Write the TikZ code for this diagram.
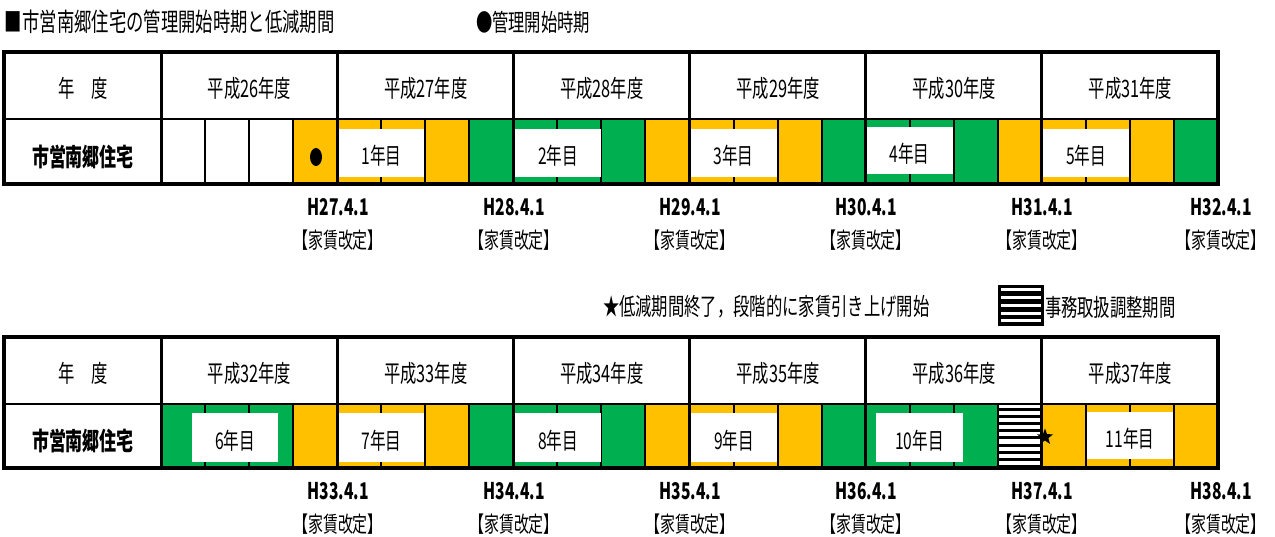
\documentclass[tikz,border=0pt]{standalone}
\usepackage{fontspec}
\setmainfont{Noto Sans CJK JP}[FakeStretch=0.68]
\usetikzlibrary{shapes.geometric}
\definecolor{cgreen}{HTML}{00B050}
\definecolor{corange}{HTML}{FFC000}
\newcommand\mytable[4]{% #1 top, #2 mid, #3 bottom, #4 colours
  \foreach \c [count=\i from 0] in {#4} {
    \fill[\c] ({161+\i*44.0417},#2) rectangle ({161+(\i+1)*44.0417},#3);
  }
}
\newcommand\mylines[3]{% #1 top, #2 mid, #3 bottom
  \foreach \i in {1,...,24} {
    \pgfmathtruncatemacro\r{mod(\i,4)}
    \ifnum\r=0\relax
      \draw[yearline] ({161+\i*44.0417},#1) -- ({161+\i*44.0417},#3);
    \fi
  }
  \draw[yearline] (161,#1) -- (161,#3);
  \draw[midline] (4,#2) -- (1218,#2);
  \draw[frame] (4,#1) rectangle (1218,#3);
}
\newcommand\myquarters[2]{% #1 mid, #2 bottom
  \foreach \i in {1,...,23} {
    \draw[qline] ({161+\i*44.0417},#1) -- ({161+\i*44.0417},#2);
  }
}
\begin{document}
\begin{tikzpicture}[x=1pt,y=-1pt,
  base/.style={inner sep=0,outer sep=0},
  ttl/.style={base,font=\fontsize{24}{28}\selectfont},
  bigttl/.style={base,font=\fontsize{25.5}{28}\selectfont},
  hdr/.style={base,font=\fontsize{24}{28}\selectfont},
  rowlab/.style={base,font=\fontsize{25}{28}\selectfont\bfseries},
  yrlab/.style={base,font=\fontsize{23}{28}\selectfont},
  datelab/.style={base,font=\fontsize{23}{28}\selectfont\bfseries},
  revlab/.style={base,font=\fontsize{22}{28}\selectfont},
  qline/.style={line width=2pt,black},
  yearline/.style={line width=3pt,black},
  midline/.style={line width=2.5pt,black},
  frame/.style={line width=4pt,black},
  labbox/.style={fill=white}]
\useasboundingbox (0,0) rectangle (1275,536);
\fill[white] (0,0) rectangle (1275,536);

% titles
\node[bigttl,anchor=west] (title) at (5,22) {■市営南郷住宅の管理開始時期と低減期間};
\node[ttl,anchor=west] (legdot) at (476,22) {●管理開始時期};

% ---------- top table ----------
\mytable{52}{119}{184}{white,white,white,corange,
  corange,corange,corange,cgreen, cgreen,cgreen,cgreen,corange,
  corange,corange,corange,cgreen, cgreen,cgreen,cgreen,corange,
  corange,corange,corange,cgreen}
\myquarters{119}{184}
\fill[labbox] (339,129) rectangle (424,177);
\fill[labbox] (515,129) rectangle (601,177);
\fill[labbox] (690,129) rectangle (777,177);
\fill[labbox] (866,127) rectangle (953,174);
\fill[labbox] (1043,129) rectangle (1129,177);
\mylines{52}{119}{184}
\node[hdr] (h0) at (83,88) {年　度};
\node[hdr] (h26) at (249.6,88) {平成26年度};
\node[hdr] (h27) at (425.8,88) {平成27年度};
\node[hdr] (h28) at (601.9,88) {平成28年度};
\node[hdr] (h29) at (778.1,88) {平成29年度};
\node[hdr] (h30) at (954.3,88) {平成30年度};
\node[hdr] (h31) at (1130.4,88) {平成31年度};
\node[rowlab] (r1) at (83,157) {市営南郷住宅};
\node[ellipse,fill=black,minimum width=12pt,minimum height=18pt,inner sep=0] (startdot) at (316,157) {};
\node[yrlab] (y1) at (381.5,156) {1年目};
\node[yrlab] (y2) at (558,156) {2年目};
\node[yrlab] (y3) at (733.5,156) {3年目};
\node[yrlab] (y4) at (909.5,154) {4年目};
\node[yrlab] (y5) at (1086,156) {5年目};
\foreach \x/\t [count=\k] in {338/27,514/28,690/29,866/30,1042/31,1221/32} {
  \node[datelab] (da\k) at (\x,207) {H\t.4.1};
  \node[revlab] (ra\k) at (\x,240) {【家賃改定】};
}

% ---------- legend row ----------
\node[ttl,anchor=west] (legstar) at (603,307) {★低減期間終了，段階的に家賃引き上げ開始};
\fill[black] (998,285) rectangle (1044,326);
\foreach \k in {0,...,4} {
  \fill[white] (1001,{288.3+\k*7.75}) rectangle (1041,{291.3+\k*7.75});
}
\node[ttl,anchor=west] (legstripe) at (1045,307) {事務取扱調整期間};

% ---------- bottom table ----------
\mytable{337}{404}{468}{cgreen,cgreen,cgreen,corange,
  corange,corange,corange,cgreen, cgreen,cgreen,cgreen,corange,
  corange,corange,corange,cgreen, cgreen,cgreen,cgreen,white,
  corange,corange,corange,corange}
\foreach \k in {0,...,8} {
  \fill[black] (998,{407.5+\k*7.2}) rectangle (1042,{410.5+\k*7.2});
}
\myquarters{404}{468}
\fill[labbox] (192,413) rectangle (278,462);
\fill[labbox] (339,413) rectangle (424,462);
\fill[labbox] (515,413) rectangle (601,462);
\fill[labbox] (691,413) rectangle (777,462);
\fill[labbox] (876,413) rectangle (963,462);
\fill[labbox] (1087,412) rectangle (1173,459);
\mylines{337}{404}{468}
\node[hdr] (g0) at (83,373) {年　度};
\node[hdr] (g32) at (249.6,373) {平成32年度};
\node[hdr] (g33) at (425.8,373) {平成33年度};
\node[hdr] (g34) at (601.9,373) {平成34年度};
\node[hdr] (g35) at (778.1,373) {平成35年度};
\node[hdr] (g36) at (954.3,373) {平成36年度};
\node[hdr] (g37) at (1130.4,373) {平成37年度};
\node[rowlab] (r2) at (83,441) {市営南郷住宅};
\node[yrlab] (y6) at (235,441) {6年目};
\node[yrlab] (y7) at (381.5,441) {7年目};
\node[yrlab] (y8) at (558,441) {8年目};
\node[yrlab] (y9) at (734,441) {9年目};
\node[yrlab] (y10) at (919.5,441) {10年目};
\node[yrlab] (y11) at (1130,439) {11年目};
\node[star,star points=5,star point ratio=2.4,fill=black,inner sep=0,minimum size=17pt] (endstar) at (1045,437) {};
\foreach \x/\t [count=\k] in {338/33,514/34,690/35,866/36,1042/37,1221/38} {
  \node[datelab] (db\k) at (\x,491) {H\t.4.1};
  \node[revlab] (rb\k) at (\x,524) {【家賃改定】};
}
\end{tikzpicture}
\end{document}
